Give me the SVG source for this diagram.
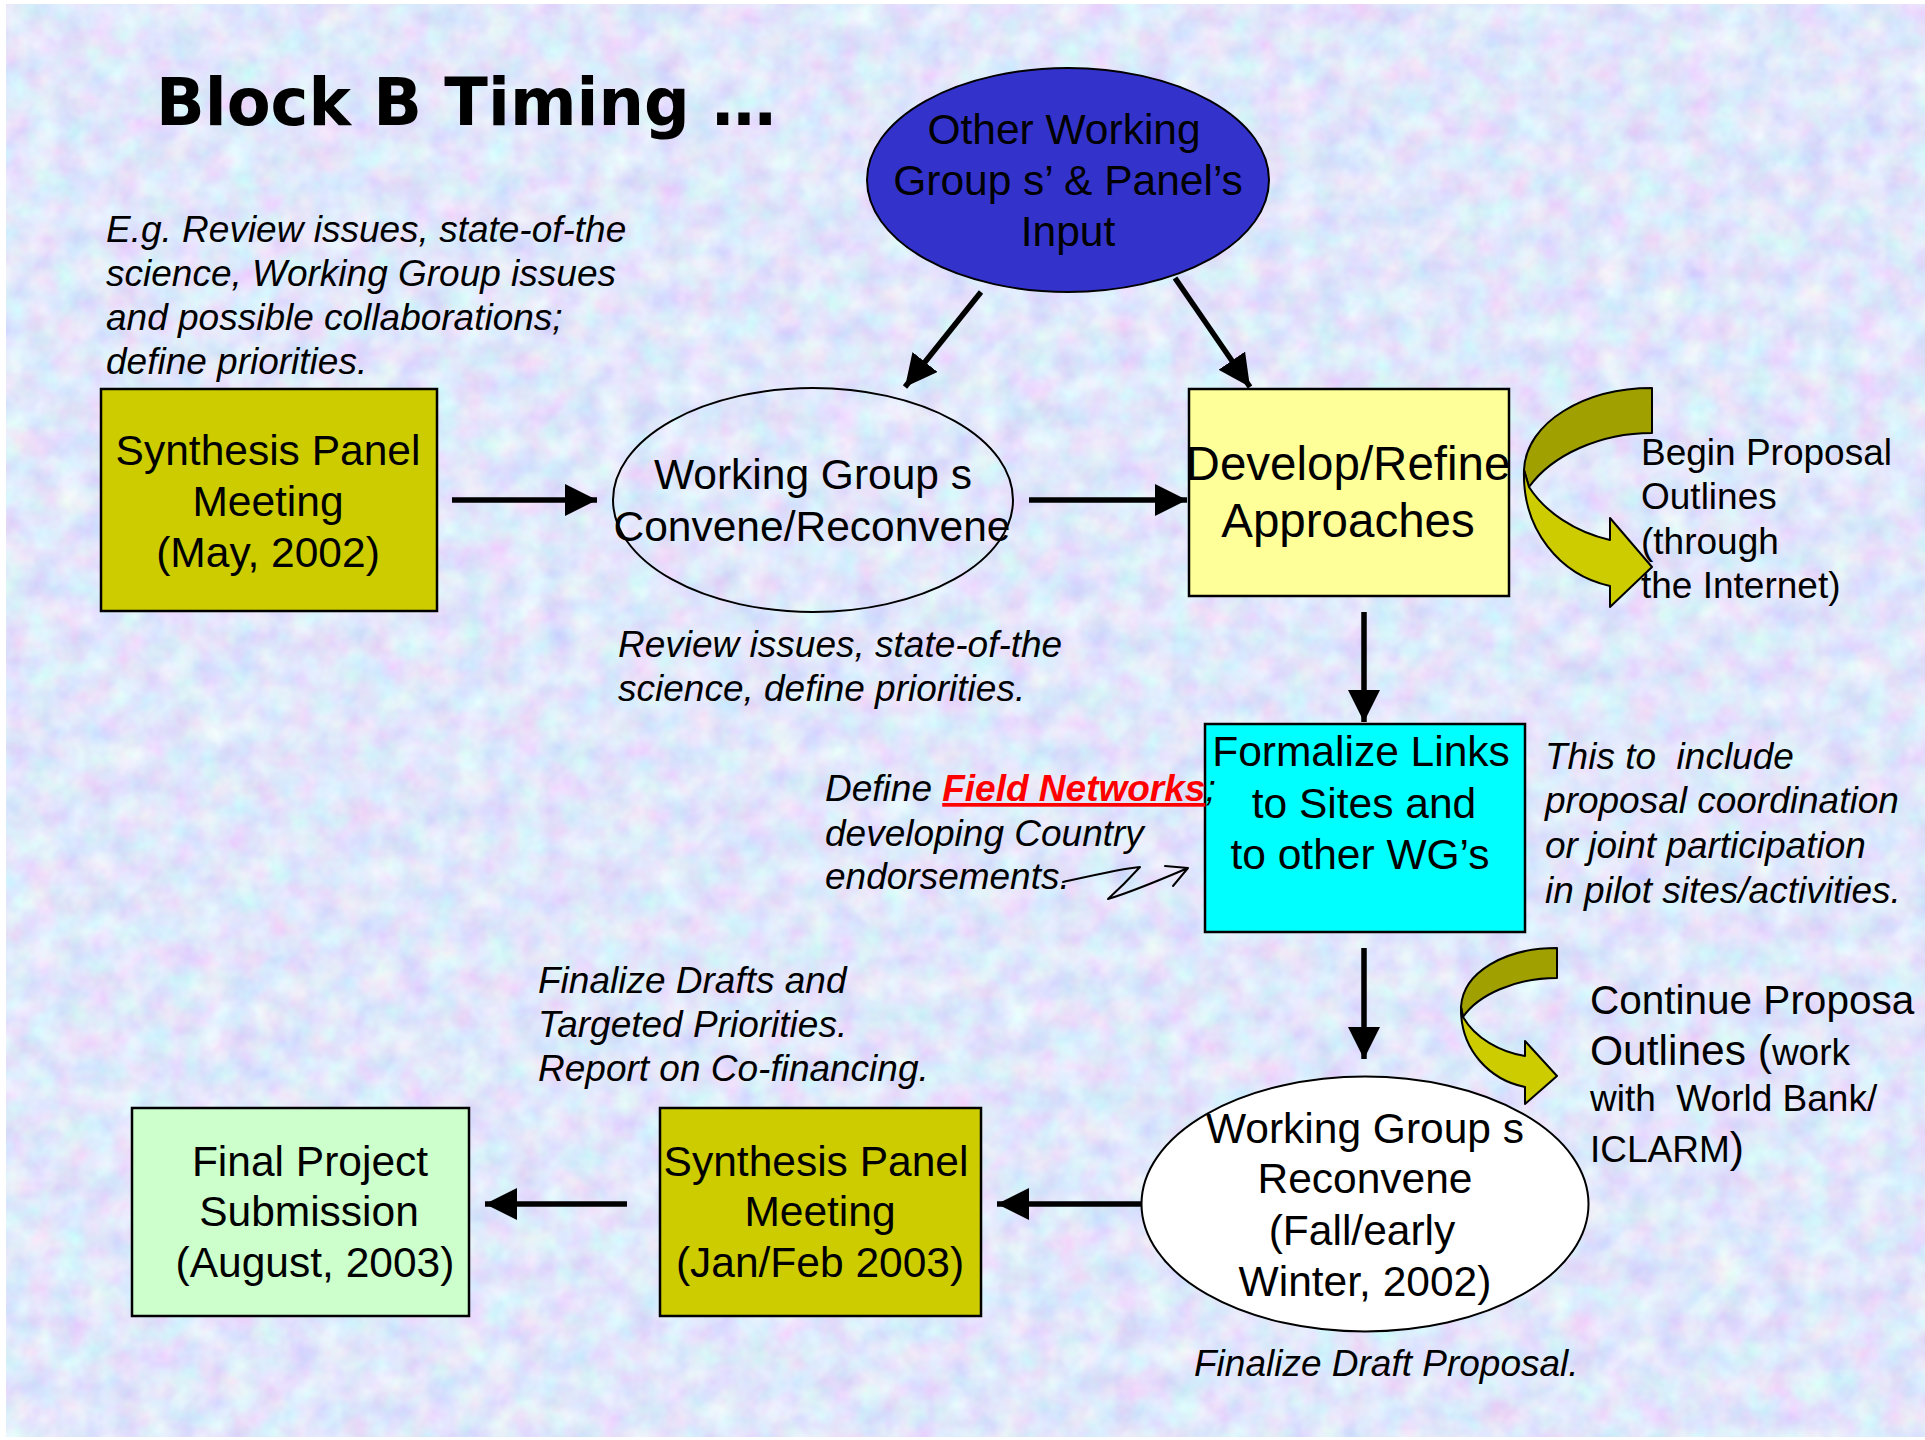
<svg xmlns="http://www.w3.org/2000/svg" width="1925" height="1440" viewBox="0 0 1925 1440">
<defs>
<filter id="tex" x="0" y="0" width="100%" height="100%" filterUnits="objectBoundingBox">
<feTurbulence type="fractalNoise" baseFrequency="0.035" numOctaves="3" seed="11" result="n"/>
<feColorMatrix in="n" type="matrix" values="0.4 0 0 0 0.55  0 0.45 0 0 0.575  0 0 0.15 0 0.89  0 0 0 0 1"/>
</filter>
<marker id="ah" viewBox="0 0 10 10" refX="10" refY="5" markerWidth="32" markerHeight="32" markerUnits="userSpaceOnUse" orient="auto">
<path d="M0,0 L10,5 L0,10 Z" fill="#000"/>
</marker>
<style>
.n{font-family:"Liberation Sans",Arial,sans-serif;font-size:42.5px;text-anchor:middle;fill:#000}
.b{font-family:"Liberation Sans",Arial,sans-serif;font-size:47.5px;text-anchor:middle;fill:#000}
.i{font-family:"Liberation Sans",Arial,sans-serif;font-size:37px;font-style:italic;fill:#000}
.r{font-family:"Liberation Sans",Arial,sans-serif;font-size:37px;fill:#000}
.big{font-size:42.5px}
.cont{font-family:"Liberation Sans",Arial,sans-serif;font-size:40.5px;fill:#000}
.box{stroke:#000;stroke-width:2.5}
.ell{stroke:#000;stroke-width:2}
.arr{stroke:#000;stroke-width:5.5;fill:none;marker-end:url(#ah)}
.cd{fill:#A0A000;stroke:#000;stroke-width:2;stroke-linejoin:round}
.cl{fill:#CCCC00;stroke:#000;stroke-width:2;stroke-linejoin:round}
</style>
</defs>
<rect x="0" y="0" width="1925" height="1440" fill="#fff"/>
<rect x="6" y="4" width="1919" height="1433" fill="#B9CBF4" filter="url(#tex)"/>

<g id="title">
<text x="156" y="125" font-family="'DejaVu Sans',Verdana,sans-serif" font-weight="bold" font-size="66" textLength="620" lengthAdjust="spacingAndGlyphs">Block B Timing …</text>
</g>

<g id="note-top-left">
<text x="106" y="242" class="i">E.g. Review issues, state-of-the</text>
<text x="106" y="286" class="i">science, Working Group issues</text>
<text x="106" y="330" class="i">and possible collaborations;</text>
<text x="106" y="374" class="i">define priorities.</text>
</g>

<g id="synthesis1">
<rect x="101" y="389" width="336" height="222" fill="#CCCC00" class="box"/>
<text x="268" y="465" class="n">Synthesis Panel</text>
<text x="268" y="516" class="n">Meeting</text>
<text x="268" y="567" class="n">(May, 2002)</text>
</g>

<g id="wg-convene">
<ellipse cx="813" cy="500" rx="200" ry="112" fill="none" class="ell"/>
<text x="813" y="489" class="n">Working Group s</text>
<text x="812" y="541" class="n">Convene/Reconvene</text>
</g>

<g id="note-wg">
<text x="618" y="657" class="i">Review issues, state-of-the</text>
<text x="618" y="701" class="i">science, define priorities.</text>
</g>

<g id="other-input">
<ellipse cx="1068" cy="180" rx="201" ry="112" fill="#3333CC" class="ell"/>
<text x="1064" y="144" class="n">Other Working</text>
<text x="1068" y="195" class="n">Group s’ &amp; Panel’s</text>
<text x="1068" y="246" class="n">Input</text>
</g>

<g id="develop">
<rect x="1189" y="389" width="320" height="207" fill="#FFFF99" class="box"/>
<text x="1348" y="480" class="b">Develop/Refine</text>
<text x="1348" y="537" class="b">Approaches</text>
</g>

<g id="curve1">
<path class="cd" d="M1652,388 C1585,388 1526,422 1524,470 L1529,487 C1552,455 1600,433 1652,433 Z"/>
<path class="cl" d="M1524,470 C1522,530 1560,575 1610,586 L1610,607 L1652,567 L1610,518 L1610,540 C1575,532 1545,512 1529,487 Z"/>
</g>

<g id="note-begin">
<text x="1641" y="465" class="r">Begin Proposal</text>
<text x="1641" y="509" class="r">Outlines</text>
<text x="1641" y="554" class="r">(through</text>
<text x="1641" y="598" class="r">the Internet)</text>
</g>

<g id="formalize">
<rect x="1205" y="724" width="320" height="208" fill="#00FFFF" class="box"/>
<text x="1361" y="766" class="n">Formalize Links</text>
<text x="1364" y="818" class="n">to Sites and</text>
<text x="1360" y="869" class="n">to other WG’s</text>
</g>

<g id="note-field">
<text x="825" y="801" class="i">Define <tspan fill="#FF0000" font-weight="bold" text-decoration="underline">Field Networks</tspan>;</text>
<text x="825" y="846" class="i">developing Country</text>
<text x="825" y="889" class="i">endorsements.</text>
<path d="M1063,882 C1090,876 1125,868 1140,867 C1130,878 1118,890 1108,899 C1128,893 1160,880 1188,868 M1165,866 L1188,868 L1173,886" fill="none" stroke="#000" stroke-width="2" stroke-linecap="round" stroke-linejoin="round"/>
</g>

<g id="note-include">
<text x="1545" y="769" class="i" xml:space="preserve">This to  include</text>
<text x="1545" y="813" class="i">proposal coordination</text>
<text x="1545" y="858" class="i">or joint participation</text>
<text x="1545" y="903" class="i">in pilot sites/activities.</text>
</g>

<g id="curve2">
<path class="cd" d="M1557,948 C1505,948 1463,972 1461,1007 L1463,1017 C1478,995 1515,978 1557,978 Z"/>
<path class="cl" d="M1461,1007 C1460,1050 1490,1080 1525,1087 L1525,1104 L1557,1076 L1525,1041 L1525,1056 C1500,1052 1475,1038 1463,1017 Z"/>
</g>

<g id="note-continue">
<text x="1590" y="1014" class="cont">Continue Proposa</text>
<text x="1590" y="1065" class="r"><tspan class="big">Outlines (</tspan>work</text>
<text x="1590" y="1111" class="r" xml:space="preserve">with  World Bank/</text>
<text x="1590" y="1162" class="r">ICLARM<tspan class="big">)</tspan></text>
</g>

<g id="wg-reconvene">
<ellipse cx="1365" cy="1204" rx="223.5" ry="127.5" fill="#FFFFFF" class="ell"/>
<text x="1365" y="1143" class="n">Working Group s</text>
<text x="1365" y="1193" class="n">Reconvene</text>
<text x="1362" y="1245" class="n">(Fall/early</text>
<text x="1365" y="1296" class="n">Winter, 2002)</text>
</g>

<g id="note-final-draft">
<text x="1194" y="1376" class="i">Finalize Draft Proposal.</text>
</g>

<g id="synthesis2">
<rect x="660" y="1108" width="321" height="208" fill="#CCCC00" class="box"/>
<text x="816" y="1176" class="n">Synthesis Panel</text>
<text x="820" y="1226" class="n">Meeting</text>
<text x="820" y="1277" class="n">(Jan/Feb 2003)</text>
</g>

<g id="note-drafts">
<text x="538" y="993" class="i">Finalize Drafts and</text>
<text x="538" y="1037" class="i">Targeted Priorities.</text>
<text x="538" y="1081" class="i">Report on Co-financing.</text>
</g>

<g id="final">
<rect x="132" y="1108" width="337" height="208" fill="#CCFFCC" class="box"/>
<text x="310" y="1176" class="n">Final Project</text>
<text x="309" y="1226" class="n">Submission</text>
<text x="315" y="1277" class="n">(August, 2003)</text>
</g>

<g id="connectors">
<line class="arr" x1="452" y1="500" x2="597" y2="500"/>
<line class="arr" x1="1029" y1="500" x2="1187" y2="500"/>
<line class="arr" x1="981" y1="292" x2="905" y2="387"/>
<line class="arr" x1="1175" y1="278" x2="1250" y2="387"/>
<line class="arr" x1="1364" y1="612" x2="1364" y2="722"/>
<line class="arr" x1="1364" y1="948" x2="1364" y2="1059"/>
<line class="arr" x1="1141" y1="1204" x2="997" y2="1204"/>
<line class="arr" x1="627" y1="1204" x2="485" y2="1204"/>
</g>
</svg>
